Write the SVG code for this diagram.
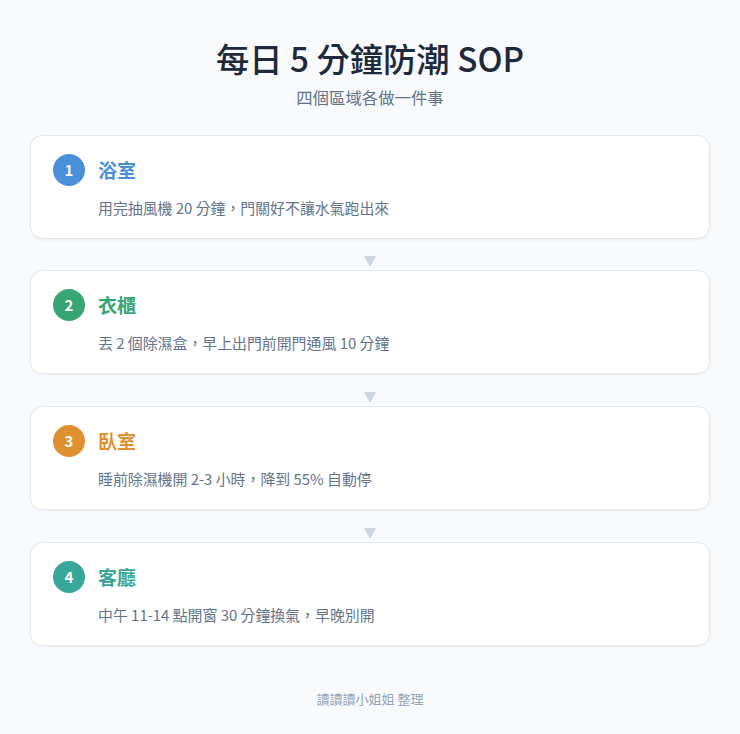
<svg xmlns="http://www.w3.org/2000/svg" width="740" height="734" viewBox="0 0 740 734">
<style>
text{font-family:"Noto Sans CJK TC","Noto Sans",sans-serif}
.card{fill:#ffffff;stroke:#e2e8f0;stroke-width:1}
.num{fill:#fff;font-size:15px;font-weight:700;text-anchor:middle}
.ttl{font-size:19px;font-weight:600}
.desc{fill:#64748b;font-size:14.9px}
.arrow{fill:#cbd5e1}
</style>
<defs>
<filter id="sh" x="-5%" y="-20%" width="110%" height="140%">
<feDropShadow dx="0" dy="1" stdDeviation="1.5" flood-color="#0f172a" flood-opacity="0.05"/>
</filter>
</defs>
<rect width="740" height="734" fill="#f8fafc"/>
<text x="370" y="72" text-anchor="middle" font-size="33.3" font-weight="500" fill="#1e293b">每日 5 分鐘防潮 SOP</text>
<text x="370" y="104" text-anchor="middle" font-size="16.4" fill="#64748b">四個區域各做一件事</text>
<g id="connectors">
<polygon class="arrow" points="364,256 376,256 370,267"/>
<polygon class="arrow" points="364,392 376,392 370,403"/>
<polygon class="arrow" points="364,528 376,528 370,539"/>
</g>
<g id="node1">
<rect class="card" x="30.5" y="135.5" width="679" height="103" rx="12" filter="url(#sh)"/>
<circle cx="69" cy="170" r="16" fill="#4a8fd9"/>
<text class="num" x="69" y="175.5">1</text>
<text class="ttl" x="98" y="178" fill="#4a8fd9">浴室</text>
<text class="desc" x="98" y="214">用完抽風機 20 分鐘，門關好不讓水氣跑出來</text>
</g>
<g id="node2">
<rect class="card" x="30.5" y="270.5" width="679" height="103" rx="12" filter="url(#sh)"/>
<circle cx="69" cy="305" r="16" fill="#38a673"/>
<text class="num" x="69" y="310.5">2</text>
<text class="ttl" x="98" y="313" fill="#38a673">衣櫃</text>
<text class="desc" x="98" y="349">丟 2 個除濕盒，早上出門前開門通風 10 分鐘</text>
</g>
<g id="node3">
<rect class="card" x="30.5" y="406.5" width="679" height="103" rx="12" filter="url(#sh)"/>
<circle cx="69" cy="441" r="16" fill="#e0912f"/>
<text class="num" x="69" y="446.5">3</text>
<text class="ttl" x="98" y="449" fill="#e0912f">臥室</text>
<text class="desc" x="98" y="485">睡前除濕機開 2-3 小時，降到 55% 自動停</text>
</g>
<g id="node4">
<rect class="card" x="30.5" y="542.5" width="679" height="103" rx="12" filter="url(#sh)"/>
<circle cx="69" cy="577" r="16" fill="#38a699"/>
<text class="num" x="69" y="582.5">4</text>
<text class="ttl" x="98" y="585" fill="#38a699">客廳</text>
<text class="desc" x="98" y="621">中午 11-14 點開窗 30 分鐘換氣，早晚別開</text>
</g>
<text x="370" y="704" text-anchor="middle" font-size="13" fill="#94a3b8">讀讀讀小姐姐 整理</text>
</svg>
